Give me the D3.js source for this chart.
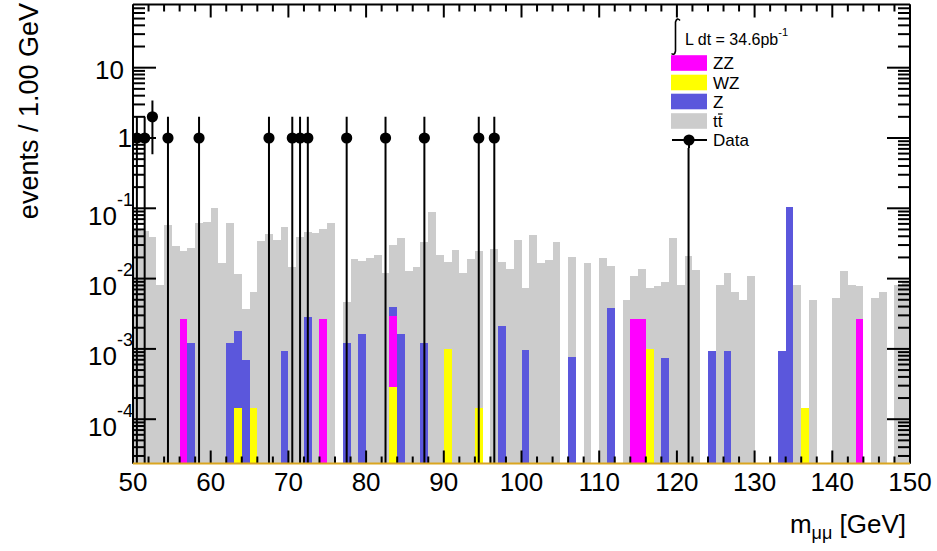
<!DOCTYPE html>
<html><head><meta charset="utf-8">
<script src="https://cdn.jsdelivr.net/npm/d3@7"></script>
<style>
body{margin:0;background:#fff}
svg{display:block}
text{font-family:"Liberation Sans",Arial,Helvetica,sans-serif;fill:#000}
</style>
</head><body>
<svg id="c" width="937" height="551"></svg>
<script>
// ---- data (bin lower edges in GeV, 1 GeV bins from 50 to 150) ----
const bins = [50,51,52,53,54,55,56,57,58,59,60,61,62,63,64,65,66,67,68,69,70,71,72,73,74,75,76,77,78,79,
  80,81,82,83,84,85,86,87,88,89,90,91,92,93,94,95,96,97,98,99,100,101,102,103,104,105,106,107,108,109,
  110,111,112,113,114,115,116,117,118,119,120,121,122,123,124,125,126,127,128,129,130,131,132,133,134,135,136,137,138,139,
  140,141,142,143,144,145,146,147,148,149];
const ttbar = [0.049,0.048,0.0395,0.0081,0.058,0.0294,0.0220,0.0263,0.0611,0.0632,
  0.102,0.0165,0.0599,0.0098,0.00297,0.00638,0.0346,0.0431,0.0354,0.0539,
  0.0145,0.0386,0.0437,0.045,0.0481,0.0625,0,0.0034,0.019,0.0164,
  0.0194,0.0214,0.0119,0.0262,0.0358,0.013,0.0145,0.0323,0.0877,0.0217,
  0.016,0.0255,0.0119,0.0188,0.0246,0,0.0264,0.0149,0.0136,0.0354,
  0.00647,0.0417,0.0165,0.0184,0.0328,0,0.0197,0,0.0165,0,
  0.0199,0.0114,0,0.00496,0.0082,0.0109,0.0064,0.00785,0.0081,0.0382,
  0.0081,0.021,0.0133,0,0,0.0081,0.0112,0.00638,0.00496,0.011,
  0,0,0,0,0,0.0081,0,0.00496,0,0,
  0.00524,0.013,0.0081,0.0052,0,0.00524,0.00638,0,0.0081,0.009];
const zBins  = [57,62,63,64,69,72,77,79,83,84,87,97,100,106,111,118,124,126,133,134];
const zVals  = [0.0012,0.0012,0.00166,0.000695,0.00094,0.00281,0.0012,0.00163,0.00093,0.00163,
  0.0012,0.00214,0.000965,0.000776,0.00386,0.000734,0.00094,0.00094,0.00094,0.1055];
const wzBins = [63,65,83,90,94,116,136];
const wzVals = [0.000143,0.000143,0.000284,0.001,0.000143,0.001,0.000143];
const zzBins = [56,74,83,114,115,143];
const zzVals = [0.00266,0.00266,0.00269,0.00266,0.00266,0.00266];
const dataBins   = [50,51,52,54,58,67,70,71,72,77,82,87,94,96,121];
const dataCounts = [1,1,2,1,1,1,1,1,1,1,1,1,1,1,1];
const xTickLabels = [50,60,70,80,90,100,110,120,130,140,150];
const yTickValues = [1e-4,1e-3,1e-2,1e-1,1,10];
const yTickLabels = [["10","-4"],["10","-3"],["10","-2"],["10","-1"],["1",""],["10",""]];
const legendEntries = ["ZZ","WZ","Z","tt","Data"];
const colors = {zz:"#ff00ff", wz:"#ffff00", z:"#5b57dc", tt:"#cccccc"};

// ---- layout ----
const L = 133, R = 910, T = 4.5, B = 463.5;
const svg = d3.select("#c");
const x = d3.scaleLinear().domain([50,150]).range([L,R]);
const yMin = 2.344e-5, yMax = 79.2;
const y = d3.scaleLog().domain([yMin,yMax]).range([B,T]);

svg.append("defs").append("clipPath").attr("id","pc")
  .append("rect").attr("x",L).attr("y",T).attr("width",R-L).attr("height",B-T);

// stack: WZ (bottom), ZZ, Z, ttbar (top)
const lookup = (bs,vs) => { const m = new Map(); bs.forEach((b,i)=>m.set(b,vs[i])); return m; };
const mWZ = lookup(wzBins,wzVals), mZZ = lookup(zzBins,zzVals), mZ = lookup(zBins,zVals);
const rows = bins.map((b,i)=>{
  const wz = mWZ.get(b)||0, zz = mZZ.get(b)||0, z = mZ.get(b)||0, tt = ttbar[i];
  return {b, c1: wz, c2: wz+zz, c3: wz+zz+z, c4: wz+zz+z+tt};
});
const gBars = svg.append("g").attr("clip-path","url(#pc)").attr("shape-rendering","crispEdges");
const layers = [["c4",colors.tt],["c3",colors.z],["c2",colors.zz],["c1",colors.wz]];
layers.forEach(([k,col])=>{
  gBars.selectAll(null).data(rows.filter(r=>r[k]>0)).join("rect")
    .attr("x",r=>x(r.b)).attr("width",r=>x(r.b+1)-x(r.b))
    .attr("y",r=>y(r[k])).attr("height",r=>B-y(r[k]))
    .attr("fill",col);
});

// ---- data points ----
const gData = svg.append("g").attr("clip-path","url(#pc)");
dataBins.forEach((b,i)=>{
  const n = dataCounts[i], e = Math.sqrt(n);
  const cx = x(b+0.5);
  const yLo = (n-e) > yMin ? y(n-e) : B;
  gData.append("line").attr("x1",cx).attr("x2",cx).attr("y1",y(n+e)).attr("y2",yLo)
    .attr("stroke","#000").attr("stroke-width",2);
  gData.append("circle").attr("cx",cx).attr("cy",y(n)).attr("r",5.6).attr("fill","#000");
});

// ---- axes / frame ----
const gAx = svg.append("g").attr("stroke","#000").attr("stroke-width",2);
const xMinor = d3.range(50,151,2);
xMinor.forEach(v=>{
  const major = v%10===0, len = major?13:7, xx = x(v);
  gAx.append("line").attr("x1",xx).attr("x2",xx).attr("y1",B).attr("y2",B-len);
  gAx.append("line").attr("x1",xx).attr("x2",xx).attr("y1",T).attr("y2",T+len);
});
const yMinorVals = [];
for (let d=-5; d<=1; d++) for (let m=1; m<=9; m++) { const v = m*Math.pow(10,d); if (v>=yMin && v<=yMax) yMinorVals.push([v,m===1]); }
yMinorVals.forEach(([v,major])=>{
  const yy = y(v), len = major?23:12;
  gAx.append("line").attr("x1",L).attr("x2",L+len).attr("y1",yy).attr("y2",yy);
  gAx.append("line").attr("x1",R).attr("x2",R-len).attr("y1",yy).attr("y2",yy);
});
gAx.append("line").attr("x1",L).attr("x2",L).attr("y1",T).attr("y2",B);
gAx.append("line").attr("x1",R).attr("x2",R).attr("y1",T).attr("y2",B);
gAx.append("line").attr("x1",L).attr("x2",R).attr("y1",T).attr("y2",T);
svg.append("line").attr("x1",L).attr("x2",R).attr("y1",B).attr("y2",B)
  .attr("stroke","#daa520").attr("stroke-width",2);

// x tick labels
svg.append("g").selectAll("text").data(xTickLabels).join("text")
  .attr("x",d=>x(d)).attr("y",490.5).attr("text-anchor","middle")
  .attr("font-size",26).text(d=>d);

// y tick labels
yTickValues.forEach((v,i)=>{
  const [base,exp] = yTickLabels[i];
  const yy = y(v);
  if (exp) {
    const t = svg.append("text").attr("x",133).attr("y",yy+16.5).attr("text-anchor","end").attr("font-size",26);
    t.append("tspan").text(base);
    t.append("tspan").attr("dy",-19).attr("font-size",18).text(exp);
  } else if (base==="1") {
    svg.append("text").attr("x",132).attr("y",yy+9.5).attr("text-anchor","end").attr("font-size",26).text(base);
  } else {
    svg.append("text").attr("x",124).attr("y",yy+11).attr("text-anchor","end").attr("font-size",26).text(base);
  }
});

// axis titles
svg.append("text").attr("transform","translate(38,3) rotate(-90)").attr("text-anchor","end")
  .attr("font-size",27).text("events / 1.00 GeV");
const xt = svg.append("text").attr("x",906).attr("y",533).attr("text-anchor","end").attr("font-size",26);
xt.append("tspan").text("m");
xt.append("tspan").attr("dy",6).attr("font-size",18).text("μμ");
xt.append("tspan").attr("dy",-6).text(" [GeV]");

// ---- legend ----
const gl = svg.append("g");
gl.append("rect").attr("x",664).attr("y",19).attr("width",180).attr("height",129).attr("fill","#fff");
gl.append("path").attr("d","M680,20.5 Q677,17 675.5,22 L675.5,51 Q674.5,56 671.5,53.5")
  .attr("fill","none").attr("stroke","#000").attr("stroke-width",1.6);
const lt = gl.append("text").attr("x",685).attr("y",45).attr("font-size",16);
lt.append("tspan").text("L dt = 34.6pb");
lt.append("tspan").attr("dy",-9).attr("font-size",11).text("-1");
const boxCols = [colors.zz,colors.wz,colors.z,colors.tt];
const rowY = [63,82.5,101.5,121,140];
legendEntries.forEach((name,i)=>{
  const cy = rowY[i];
  if (i<4) {
    gl.append("rect").attr("x",671).attr("y",cy-7.8).attr("width",36).attr("height",15.6).attr("fill",boxCols[i]);
  } else {
    gl.append("line").attr("x1",672).attr("x2",707).attr("y1",cy).attr("y2",cy).attr("stroke","#000").attr("stroke-width",2);
    gl.append("line").attr("x1",689).attr("x2",689).attr("y1",cy).attr("y2",148).attr("stroke","#000").attr("stroke-width",2);
    gl.append("circle").attr("cx",689).attr("cy",cy).attr("r",5.6).attr("fill","#000");
  }
  gl.append("text").attr("x",713).attr("y",cy+6).attr("font-size",17).text(name);
});
// overbar on second t of "tt"
gl.append("line").attr("x1",718).attr("x2",722.5).attr("y1",114).attr("y2",114).attr("stroke","#000").attr("stroke-width",1.2);
</script>
</body></html>
